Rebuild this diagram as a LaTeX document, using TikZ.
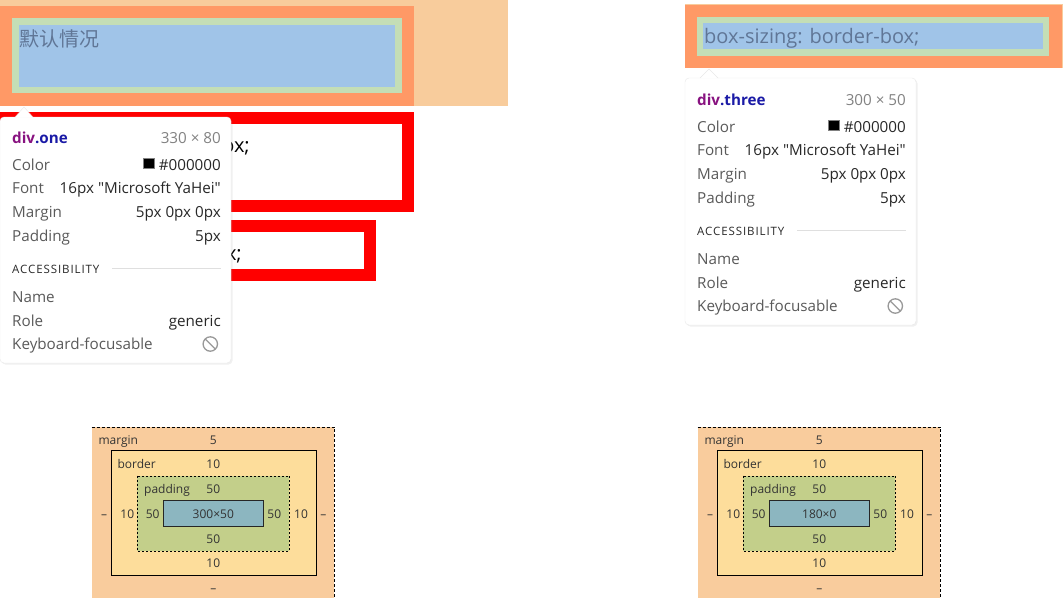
\documentclass[tikz,border=0pt]{standalone}
\usepackage{fontspec}
\setmainfont{Open Sans}[Ligatures=TeXOff]
\newfontfamily\cjk{Noto Sans CJK SC}
\usetikzlibrary{shadows}

\definecolor{margenlys}{RGB}{248,204,156}
\definecolor{kant}{RGB}{255,153,102}
\definecolor{fyld}{RGB}{196,222,182}
\definecolor{indhold}{RGB}{160,196,232}
\definecolor{blaatekst}{RGB}{96,118,150}
\definecolor{etiket}{RGB}{90,90,90}
\definecolor{vaerdi}{RGB}{40,40,40}
\definecolor{svag}{RGB}{130,130,130}
\definecolor{lilla}{RGB}{136,18,128}
\definecolor{blaa}{RGB}{26,26,166}
\definecolor{bmmargin}{RGB}{249,204,157}
\definecolor{bmborder}{RGB}{253,221,155}
\definecolor{bmpadding}{RGB}{195,207,138}
\definecolor{bmcontent}{RGB}{140,182,192}
\definecolor{bmtekst}{RGB}{51,51,51}

\begin{document}
\begin{tikzpicture}[x=1pt,y=-1pt,
	lbl/.style={anchor=base west,inner sep=0pt,font=\fontsize{15.2}{18}\selectfont,text=etiket},
	val/.style={anchor=base east,inner sep=0pt,font=\fontsize{15.2}{18}\selectfont,text=vaerdi},
	titel/.style={anchor=base west,inner sep=0pt,font=\fontsize{15.2}{18}\selectfont\bfseries},
	acc/.style={anchor=base west,inner sep=0pt,font=\fontsize{11.5}{14}\selectfont\addfontfeatures{LetterSpace=8},text=vaerdi},
	bm/.style={anchor=base,inner sep=0pt,font=\fontsize{12}{14}\selectfont,text=bmtekst},
	bmw/.style={bm,anchor=base west},
	tip/.style={fill=white,draw=gray!18,rounded corners=4pt,drop shadow={shadow xshift=1.5pt,shadow yshift=-1.5pt,opacity=0.12}}]
  %fast ramme
	\useasboundingbox (0,0) rectangle (1063,600);

  %div.one markeret
	\fill[margenlys] (0,0) rectangle (508,106);
	\fill[kant] (0,6) rectangle (414,106);
	\fill[fyld] (12,18) rectangle (402,93);
	\fill[indhold] (19,25) rectangle (395,87);
	\node[anchor=base west,inner sep=0pt,font=\cjk\fontsize{20}{24}\selectfont,text=blaatekst] (standard) at (19,46) {默认情况};

  %de roede kasser
	\draw[red,line width=12pt] (6,118) rectangle (408,206);
	\draw[red,line width=12pt] (6,226) rectangle (370,275);
	\node[anchor=base east,inner sep=0pt,font=\fontsize{20}{24}\selectfont] (rest1) at (250,152) {ox;};
	\node[anchor=base east,inner sep=0pt,font=\fontsize{20}{24}\selectfont] (rest2) at (242,260) {x;};

  %tooltip div.one
	\path[tip] (0,117) rectangle (231,363);
	\fill[white] (15,117.6) -- (24,107) -- (33,117.6) -- cycle;
	\draw[gray!18] (15,117) -- (24,107) -- (33,117);
	\node[titel] (oneTitel) at (12,143) {\textcolor{lilla}{div}\textcolor{blaa}{.one}};
	\node[val,text=svag] (oneStr) at (221,143) {330 × 80};
	\node[lbl] (oneColor) at (12,170) {Color};
	\node[val] (oneColorV) at (221,170) {\#000000};
	\draw[gray,fill=black] (143.3,158) rectangle (154.3,168.5);
	\node[lbl] (oneFont) at (12,193) {Font};
	\node[val] (oneFontV) at (221,193) {16px "Microsoft YaHei"};
	\node[lbl] (oneMargin) at (12,217) {Margin};
	\node[val] (oneMarginV) at (221,217) {5px 0px 0px};
	\node[lbl] (onePadding) at (12,241) {Padding};
	\node[val] (onePaddingV) at (221,241) {5px};
	\node[acc] (oneAcc) at (12,273) {ACCESSIBILITY};
	\draw[gray!25] (112,268.5) -- (221,268.5);
	\node[lbl] (oneName) at (12,302) {Name};
	\node[lbl] (oneRole) at (12,326) {Role};
	\node[val] (oneRoleV) at (221,326) {generic};
	\node[lbl] (oneKey) at (12,349) {Keyboard-focusable};
	\draw[gray!80,line width=1.3pt] (210.3,344) circle (7.2) (205.2,338.9) -- (215.4,349.1);

  %div.three markeret
	\fill[margenlys] (685,3.5) rectangle (1063,68);
	\fill[kant] (685,5) rectangle (1062,68);
	\fill[fyld] (697,17) rectangle (1049,56);
	\fill[indhold] (703,23) rectangle (1043,49);
	\node[anchor=base west,inner sep=0pt,font=\fontsize{20}{24}\selectfont,text=blaatekst] (borderbox) at (704,43.5) {box-sizing: border-box;};

  %tooltip div.three
  \begin{scope}[shift={(685,-38)}]
	\path[tip] (0,116) rectangle (231,363);
	\fill[white] (15,116.6) -- (24,107) -- (33,116.6) -- cycle;
	\draw[gray!18] (15,116) -- (24,107) -- (33,116);
	\node[titel] (threeTitel) at (12,143) {\textcolor{lilla}{div}\textcolor{blaa}{.three}};
	\node[val,text=svag] (threeStr) at (221,143) {300 × 50};
	\node[lbl] (threeColor) at (12,170) {Color};
	\node[val] (threeColorV) at (221,170) {\#000000};
	\draw[gray,fill=black] (143.3,158) rectangle (154.3,168.5);
	\node[lbl] (threeFont) at (12,193) {Font};
	\node[val] (threeFontV) at (221,193) {16px "Microsoft YaHei"};
	\node[lbl] (threeMargin) at (12,217) {Margin};
	\node[val] (threeMarginV) at (221,217) {5px 0px 0px};
	\node[lbl] (threePadding) at (12,241) {Padding};
	\node[val] (threePaddingV) at (221,241) {5px};
	\node[acc] (threeAcc) at (12,273) {ACCESSIBILITY};
	\draw[gray!25] (112,268.5) -- (221,268.5);
	\node[lbl] (threeName) at (12,302) {Name};
	\node[lbl] (threeRole) at (12,326) {Role};
	\node[val] (threeRoleV) at (221,326) {generic};
	\node[lbl] (threeKey) at (12,349) {Keyboard-focusable};
	\draw[gray!80,line width=1.3pt] (210.3,344) circle (7.2) (205.2,338.9) -- (215.4,349.1);
  \end{scope}

  %boksmodel 1
	\fill[bmmargin] (91.7,426.7) rectangle (334.3,598);
	\draw[dash pattern=on 3pt off 2pt] (91.7,426.7) -- (334.3,426.7) -- (334.3,598);
	\draw[fill=bmborder] (111.3,450.3) rectangle (315.7,575.3);
	\draw[fill=bmpadding,dash pattern=on 2pt off 2pt] (137.3,475.7) rectangle (289.3,551);
	\draw[draw=black!85,fill=bmcontent] (163.3,500.3) rectangle (263.3,526.3);
	\node[bmw] (aMargin) at (98.3,444) {margin};
	\node[bm] (aMarginT) at (213.3,444) {5};
	\node[bmw] (aBorder) at (117.3,468) {border};
	\node[bm] (aBorderT) at (213.3,468) {10};
	\node[bmw] (aPadding) at (144,493) {padding};
	\node[bm] (aPaddingT) at (213.3,493) {50};
	\node[bm] (aMarginL) at (104,518) {–};
	\node[bm] (aBorderL) at (127.3,518) {10};
	\node[bm] (aPaddingL) at (152.7,518) {50};
	\node[bm] (aInhold) at (213.3,518) {300×50};
	\node[bm] (aPaddingR) at (274.3,518) {50};
	\node[bm] (aBorderR) at (301,518) {10};
	\node[bm] (aMarginR) at (323.3,518) {–};
	\node[bm] (aPaddingB) at (213.3,543.3) {50};
	\node[bm] (aBorderB) at (213.3,567.7) {10};
	\node[bm] (aMarginB) at (213.3,592) {–};

  %boksmodel 2
  \begin{scope}[shift={(606,0)}]
	\fill[bmmargin] (91.7,426.7) rectangle (334.3,598);
	\draw[dash pattern=on 3pt off 2pt] (91.7,426.7) -- (334.3,426.7) -- (334.3,598);
	\draw[fill=bmborder] (111.3,450.3) rectangle (315.7,575.3);
	\draw[fill=bmpadding,dash pattern=on 2pt off 2pt] (137.3,475.7) rectangle (289.3,551);
	\draw[draw=black!85,fill=bmcontent] (163.3,500.3) rectangle (263.3,526.3);
	\node[bmw] (bMargin) at (98.3,444) {margin};
	\node[bm] (bMarginT) at (213.3,444) {5};
	\node[bmw] (bBorder) at (117.3,468) {border};
	\node[bm] (bBorderT) at (213.3,468) {10};
	\node[bmw] (bPadding) at (144,493) {padding};
	\node[bm] (bPaddingT) at (213.3,493) {50};
	\node[bm] (bMarginL) at (104,518) {–};
	\node[bm] (bBorderL) at (127.3,518) {10};
	\node[bm] (bPaddingL) at (152.7,518) {50};
	\node[bm] (bInhold) at (213.3,518) {180×0};
	\node[bm] (bPaddingR) at (274.3,518) {50};
	\node[bm] (bBorderR) at (301,518) {10};
	\node[bm] (bMarginR) at (323.3,518) {–};
	\node[bm] (bPaddingB) at (213.3,543.3) {50};
	\node[bm] (bBorderB) at (213.3,567.7) {10};
	\node[bm] (bMarginB) at (213.3,592) {–};
  \end{scope}
\end{tikzpicture}
\end{document}
